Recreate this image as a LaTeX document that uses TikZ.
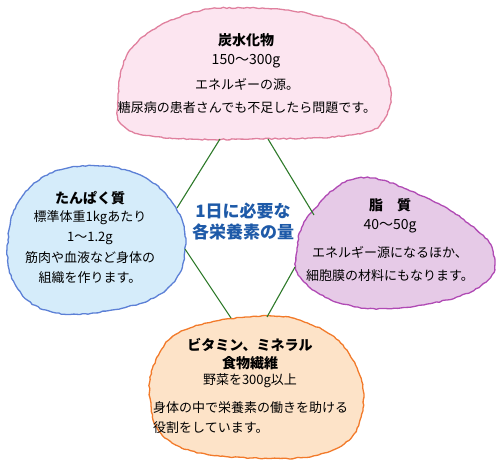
\documentclass[tikz,border=0pt]{standalone}
\usepackage{fontspec}
\setmainfont{Noto Sans CJK JP}
\usetikzlibrary{decorations.pathmorphing}

\definecolor{carbfill}{HTML}{FCE5F0}
\definecolor{carbline}{HTML}{E0809E}
\definecolor{protfill}{HTML}{D5ECFA}
\definecolor{protline}{HTML}{5C80D6}
\definecolor{fatfill}{HTML}{E6CAE7}
\definecolor{fatline}{HTML}{B04AB4}
\definecolor{vitfill}{HTML}{FDE3C8}
\definecolor{vitline}{HTML}{F27A2A}
\definecolor{stemgreen}{HTML}{2E7A2A}
\definecolor{headblue}{HTML}{1E5AA8}

\begin{document}
\begin{tikzpicture}[x=1pt, y=-1pt,
  blob/.style={line width=1.3pt, decorate,
    decoration={random steps, segment length=3pt, amplitude=0.6pt}},
  stem/.style={draw=stemgreen, line width=1.1pt},
  heading/.style={inner sep=0pt, font=\bfseries\fontsize{14}{16}\selectfont},
  amount/.style={inner sep=0pt, font=\fontsize{14}{16}\selectfont},
  note/.style={inner sep=0pt, align=center, font=\fontsize{13}{#1}\selectfont},
  note/.default=20,
  centre/.style={inner sep=0pt, align=center, text=headblue,
    font=\bfseries\fontsize{17}{21}\selectfont}]
\pgfmathsetseed{7}
\useasboundingbox (0,0) rectangle (500,470);

% blobs
\path[blob, fill=carbfill, draw=carbline] plot[smooth cycle, tension=0.7] coordinates
  {(118,100) (132,48) (188,14) (250,8) (310,14) (356,32) (387,76) (385,118)
   (350,135) (250,139) (170,138) (126,128)};
\path[blob, fill=protfill, draw=protline] plot[smooth cycle, tension=0.7] coordinates
  {(8,240) (24,194) (68,168) (132,172) (174,205) (185,250) (166,290) (112,310)
   (52,312) (16,286)};
\path[blob, fill=fatfill, draw=fatline] plot[smooth cycle, tension=0.7] coordinates
  {(297,248) (312,212) (358,178) (422,196) (472,226) (493,252) (486,282)
   (433,303) (357,307) (304,282)};
\path[blob, fill=vitfill, draw=vitline] plot[smooth cycle, tension=0.7] coordinates
  {(150,398) (160,352) (190,328) (250,317) (302,321) (348,352) (363,408)
   (333,450) (250,458) (172,443)};

% connector ends
\coordinate (carb-l) at (220,139);
\coordinate (carb-r) at (268,139);
\coordinate (prot-r) at (177,208);
\coordinate (prot-b) at (185,249);
\coordinate (fat-l) at (314,215);
\coordinate (fat-b) at (295,267);
\coordinate (vit-l) at (231,318);
\coordinate (vit-r) at (267,317);

\draw[stem] (carb-l) -- (prot-r);
\draw[stem] (carb-r) -- (fat-l);
\draw[stem] (prot-b) -- (vit-l);
\draw[stem] (fat-b) -- (vit-r);

% centre
\node[centre] (need) at (243,222) {1日に必要な\\各栄養素の量};

% 炭水化物
\node[heading] (carb) at (246,40) {炭水化物};
\node[amount] (carb-amt) at (246,61) {150〜300g};
\node[note=23] (carb-txt) at (247,96) {エネルギーの源。\\糖尿病の患者さんでも不足したら問題です。};

% たんぱく質
\node[heading] (prot) at (90,198) {たんぱく質};
\node[note] (prot-amt) at (90,228) {標準体重1kgあたり\\1〜1.2g};
\node[note] (prot-txt) at (90,268) {筋肉や血液など身体の\\組織を作ります。};

% 脂質
\node[heading] (fat) at (390,205) {脂　質};
\node[amount] (fat-amt) at (390,226) {40〜50g};
\node[note=23] (fat-txt) at (390,264) {エネルギー源になるほか、\\細胞膜の材料にもなります。};

% ビタミン、ミネラル
\node[heading, align=center, font=\bfseries\fontsize{14}{18}\selectfont] (vit) at (250,354) {ビタミン、ミネラル\\食物繊維};
\node[note] (vit-amt) at (250,381) {野菜を300g以上};
\node[note, align=left, anchor=west] (vit-txt) at (153,418) {身体の中で栄養素の働きを助ける\\役割をしています。};
\end{tikzpicture}
\end{document}
